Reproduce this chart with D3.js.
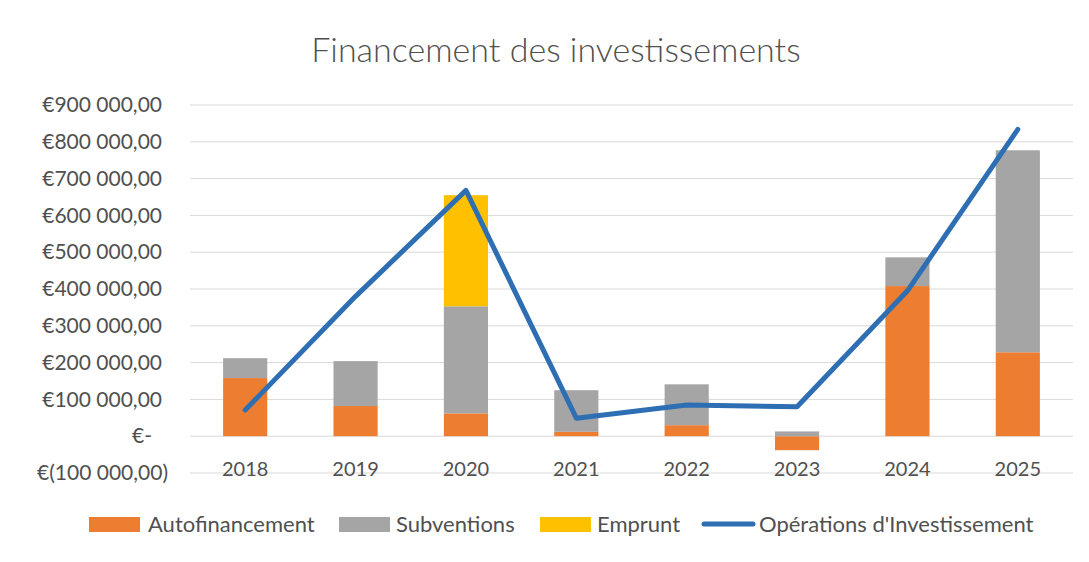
<!DOCTYPE html>
<html>
<head>
<meta charset="utf-8">
<script src="https://cdn.jsdelivr.net/npm/d3@7"></script>
<style>
  body { margin: 0; background: #fff; }
  text { font-family: Lato, "Open Sans", sans-serif; }
</style>
</head>
<body>
<div id="chart"></div>
<script>
// chart data
let years = ["2018", "2019", "2020", "2021", "2022", "2023", "2024", "2025"];
let autofinancement = [158000, 82000, 62000, 12000, 30000, -38000, 408000, 228000];
let subventions = [54000, 122000, 291000, 113000, 111000, 13000, 78000, 549000];
let emprunt = [0, 0, 302000, 0, 0, 0, 0, 0];
let operations = [71000, 380000, 668000, 49000, 85000, 80000, 395000, 834000];
let yTicks = [-100000, 0, 100000, 200000, 300000, 400000, 500000, 600000, 700000, 800000, 900000];
let seriesNames = ["Autofinancement", "Subventions", "Emprunt"];
let lineName = "Opérations d'Investissement";

let colors = {"Autofinancement": "#ED7D31", "Subventions": "#A5A5A5", "Emprunt": "#FFC000"};
let lineColor = "#2E6FB3";
let textColor = "#505050";

let width = 1089, height = 562;

let svg = d3.select("#chart").append("svg")
    .attr("width", width)
    .attr("height", height);

svg.append("text")
    .attr("x", 556)
    .attr("y", 62)
    .attr("text-anchor", "middle")
    .attr("font-size", 34)
    .attr("font-weight", 300)
    .attr("fill", textColor)
    .text("Financement des investissements");

let x = d3.scaleBand().domain(years).range([190, 1073]);
let y = d3.scaleLinear().domain([-100000, 900000]).range([473, 105]);

// gridlines
svg.append("g")
    .selectAll("line")
    .data(yTicks)
    .enter()
    .append("line")
    .attr("x1", 190)
    .attr("x2", 1073)
    .attr("y1", d => y(d))
    .attr("y2", d => y(d))
    .attr("stroke", "#d9d9d9")
    .attr("stroke-width", 1);

// y axis labels
let loc = d3.formatLocale({decimal: ",", thousands: "\u00a0", grouping: [3], currency: ["€", ""]});
let fmt = loc.format(",.2f");
let yFormat = function (v) {
    if (v === 0) return "€-";
    if (v < 0) return "€(" + fmt(-v) + ")";
    return "€" + fmt(v);
};
let yAxis = svg.append("g")
    .attr("transform", "translate(162,0)")
    .call(d3.axisLeft(y).tickValues(yTicks).tickSize(0).tickPadding(0).tickFormat(yFormat));
yAxis.select(".domain").remove();
yAxis.selectAll("text")
    .attr("font-size", 21)
    .attr("fill", textColor)
    .style("font-family", "Lato, sans-serif");
// the "€-" label sits a bit left in Excel
yAxis.selectAll(".tick").filter(d => d === 0).select("text").attr("dx", -10);
yAxis.selectAll(".tick").filter(d => d < 0).select("text").attr("dx", 6);

// stacked bars
let rows = years.map(function (yr, i) {
    return {year: yr, "Autofinancement": autofinancement[i], "Subventions": subventions[i], "Emprunt": emprunt[i]};
});
let stacked = d3.stack().keys(seriesNames).offset(d3.stackOffsetDiverging)(rows);

let barW = x.bandwidth() * 0.4;
svg.append("g")
    .selectAll("g")
    .data(stacked)
    .enter()
    .append("g")
    .attr("fill", d => colors[d.key])
    .selectAll("rect")
    .data(d => d)
    .enter()
    .append("rect")
    .attr("x", d => x(d.data.year) + (x.bandwidth() - barW) / 2)
    .attr("y", d => y(Math.max(d[0], d[1])))
    .attr("width", barW)
    .attr("height", d => Math.abs(y(d[0]) - y(d[1])));

// category labels
svg.append("g")
    .selectAll("text")
    .data(years)
    .enter()
    .append("text")
    .attr("x", d => x(d) + x.bandwidth() / 2)
    .attr("y", 476)
    .attr("text-anchor", "middle")
    .attr("font-size", 20)
    .attr("fill", textColor)
    .text(d => d);

// line
let line = d3.line()
    .x((d, i) => x(years[i]) + x.bandwidth() / 2)
    .y(d => y(d));
svg.append("path")
    .datum(operations)
    .attr("d", line)
    .attr("fill", "none")
    .attr("stroke", lineColor)
    .attr("stroke-width", 5)
    .attr("stroke-linejoin", "round")
    .attr("stroke-linecap", "round");

// legend
let legendItems = [
    {name: "Autofinancement", type: "rect", sx: 89, tx: 148},
    {name: "Subventions", type: "rect", sx: 339, tx: 396},
    {name: "Emprunt", type: "rect", sx: 540, tx: 597},
    {name: lineName, type: "line", sx: 701, tx: 759}
];
let legend = svg.append("g");
legendItems.forEach(function (it) {
    if (it.type === "rect") {
        legend.append("rect")
            .attr("x", it.sx)
            .attr("y", 517)
            .attr("width", 51)
            .attr("height", 15)
            .attr("fill", colors[it.name]);
    } else {
        legend.append("line")
            .attr("x1", it.sx + 3)
            .attr("x2", it.sx + 52)
            .attr("y1", 524)
            .attr("y2", 524)
            .attr("stroke", lineColor)
            .attr("stroke-width", 5)
            .attr("stroke-linecap", "round");
    }
    legend.append("text")
        .attr("x", it.tx)
        .attr("y", 532)
        .attr("font-size", 22)
        .attr("fill", textColor)
        .text(it.name);
});
</script>
</body>
</html>
